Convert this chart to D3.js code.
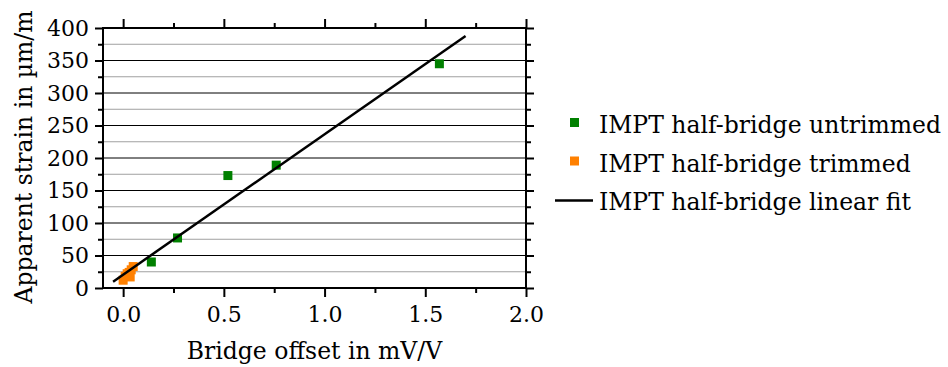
<!DOCTYPE html>
<html>
<head>
<meta charset="utf-8">
<script src="https://cdn.jsdelivr.net/npm/d3@7"></script>
<style>
  body { margin: 0; background: #fff; }
  text { font-family: "DejaVu Serif", serif; fill: #000; }
</style>
</head>
<body>
<div id="vis"></div>
<script>
// data
const untrimmedX = [0.14, 0.27, 0.52, 0.76, 1.57];
const untrimmedY = [40, 77, 173, 189, 345];

const trimmedX = [0.0, 0.01, 0.02, 0.03, 0.035, 0.04, 0.05];
const trimmedY = [12, 18, 22, 24, 17, 28, 33];

// linear fit, drawn between its two end points
const fitX = [-0.05, 1.70];
const fitY = [9.7, 387.7];

const xMajorTicks = [0, 0.5, 1.0, 1.5, 2.0];
const xMinorTicks = [0.25, 0.75, 1.25, 1.75];
const yMajorTicks = [0, 50, 100, 150, 200, 250, 300, 350, 400];
const yMinorTicks = [25, 75, 125, 175, 225, 275, 325, 375];

const legendLabels = ["IMPT half-bridge untrimmed", "IMPT half-bridge trimmed", "IMPT half-bridge linear fit"];

function drawChart() {
    const dimensions = {
        width: 948,
        height: 367,
        margin: {top: 28, right: 422, bottom: 79, left: 103}
    };
    dimensions.boundedWidth = dimensions.width - dimensions.margin.left - dimensions.margin.right;
    dimensions.boundedHeight = dimensions.height - dimensions.margin.top - dimensions.margin.bottom;

    const svg = d3.select("#vis")
        .append("svg")
        .attr("width", dimensions.width)
        .attr("height", dimensions.height);

    const g = svg.append("g")
        .attr("transform", `translate(${dimensions.margin.left}, ${dimensions.margin.top})`);

    const xScale = d3.scaleLinear()
        .domain([-0.1, 2.0])
        .range([0, dimensions.boundedWidth]);

    const yScale = d3.scaleLinear()
        .domain([0, 400])
        .range([dimensions.boundedHeight, 0]);

    // horizontal grid lines
    g.selectAll(".grid-minor")
        .data(yMinorTicks)
        .join("line")
        .attr("x1", 0).attr("x2", dimensions.boundedWidth)
        .attr("y1", d => yScale(d)).attr("y2", d => yScale(d))
        .attr("stroke", "#a0a0a0").attr("stroke-width", 1);

    g.selectAll(".grid-major")
        .data(yMajorTicks)
        .join("line")
        .attr("x1", 0).attr("x2", dimensions.boundedWidth)
        .attr("y1", d => yScale(d)).attr("y2", d => yScale(d))
        .attr("stroke", "#000").attr("stroke-width", 1);

    // axes on four sides, ticks pointing out
    const axisStyle = sel => {
        sel.select(".domain").remove();
        sel.selectAll(".tick line").attr("stroke", "#000").attr("stroke-width", 2);
        sel.selectAll(".tick text").style("font-size", "22px").style("font-family", "DejaVu Serif");
    };

    g.append("g")
        .attr("transform", `translate(0, ${dimensions.boundedHeight})`)
        .call(d3.axisBottom(xScale).tickValues(xMajorTicks).tickSize(9).tickPadding(9).tickFormat(d3.format(".1f")))
        .call(axisStyle);
    g.append("g")
        .attr("transform", `translate(0, ${dimensions.boundedHeight})`)
        .call(d3.axisBottom(xScale).tickValues(xMinorTicks).tickSize(5).tickFormat(""))
        .call(axisStyle);
    g.append("g")
        .call(d3.axisTop(xScale).tickValues(xMajorTicks).tickSize(9).tickFormat(""))
        .call(axisStyle);
    g.append("g")
        .call(d3.axisTop(xScale).tickValues(xMinorTicks).tickSize(5).tickFormat(""))
        .call(axisStyle);

    g.append("g")
        .call(d3.axisLeft(yScale).tickValues(yMajorTicks).tickSize(8).tickPadding(6))
        .call(axisStyle);
    g.append("g")
        .call(d3.axisLeft(yScale).tickValues(yMinorTicks).tickSize(5).tickFormat(""))
        .call(axisStyle);
    g.append("g")
        .attr("transform", `translate(${dimensions.boundedWidth}, 0)`)
        .call(d3.axisRight(yScale).tickValues(yMajorTicks).tickSize(8).tickFormat(""))
        .call(axisStyle);
    g.append("g")
        .attr("transform", `translate(${dimensions.boundedWidth}, 0)`)
        .call(d3.axisRight(yScale).tickValues(yMinorTicks).tickSize(5).tickFormat(""))
        .call(axisStyle);

    // frame
    g.append("rect")
        .attr("width", dimensions.boundedWidth)
        .attr("height", dimensions.boundedHeight)
        .attr("fill", "none")
        .attr("stroke", "#000")
        .attr("stroke-width", 2);

    // points
    const sq = 9;
    g.selectAll(".trimmed")
        .data(d3.zip(trimmedX, trimmedY))
        .join("rect")
        .attr("x", d => xScale(d[0]) - sq / 2)
        .attr("y", d => yScale(d[1]) - sq / 2)
        .attr("width", sq).attr("height", sq)
        .attr("fill", "#ff8000");

    g.selectAll(".untrimmed")
        .data(d3.zip(untrimmedX, untrimmedY))
        .join("rect")
        .attr("x", d => xScale(d[0]) - sq / 2)
        .attr("y", d => yScale(d[1]) - sq / 2)
        .attr("width", sq).attr("height", sq)
        .attr("fill", "#008000");

    const line = d3.line()
        .x(d => xScale(d[0]))
        .y(d => yScale(d[1]));

    g.append("path")
        .datum(d3.zip(fitX, fitY))
        .attr("d", line)
        .attr("fill", "none")
        .attr("stroke", "#000")
        .attr("stroke-width", 2.5);

    // axis titles
    svg.append("text")
        .attr("x", dimensions.margin.left + xScale(0.95))
        .attr("y", 359)
        .attr("text-anchor", "middle")
        .style("font-size", "23.5px")
        .text("Bridge offset in mV/V");

    svg.append("text")
        .attr("transform", `translate(32, 157) rotate(-90)`)
        .attr("text-anchor", "middle")
        .style("font-size", "23.5px")
        .text("Apparent strain in µm/m");

    // legend
    const legend = svg.append("g").attr("transform", "translate(555, 0)");
    const rowY = [133, 171.5, 209.5];
    const colors = ["#008000", "#ff8000"];
    legend.selectAll(".sym")
        .data(colors)
        .join("rect")
        .attr("x", 15)
        .attr("y", (d, i) => rowY[i] - 15)
        .attr("width", 9).attr("height", 9)
        .attr("fill", d => d);
    legend.append("line")
        .attr("x1", 0).attr("x2", 38)
        .attr("y1", rowY[2] - 9).attr("y2", rowY[2] - 9)
        .attr("stroke", "#000").attr("stroke-width", 2.5);
    legend.selectAll(".lab")
        .data(legendLabels)
        .join("text")
        .attr("x", 44)
        .attr("y", (d, i) => rowY[i])
        .style("font-size", "23.5px")
        .text(d => d);
}

drawChart();
</script>
</body>
</html>
